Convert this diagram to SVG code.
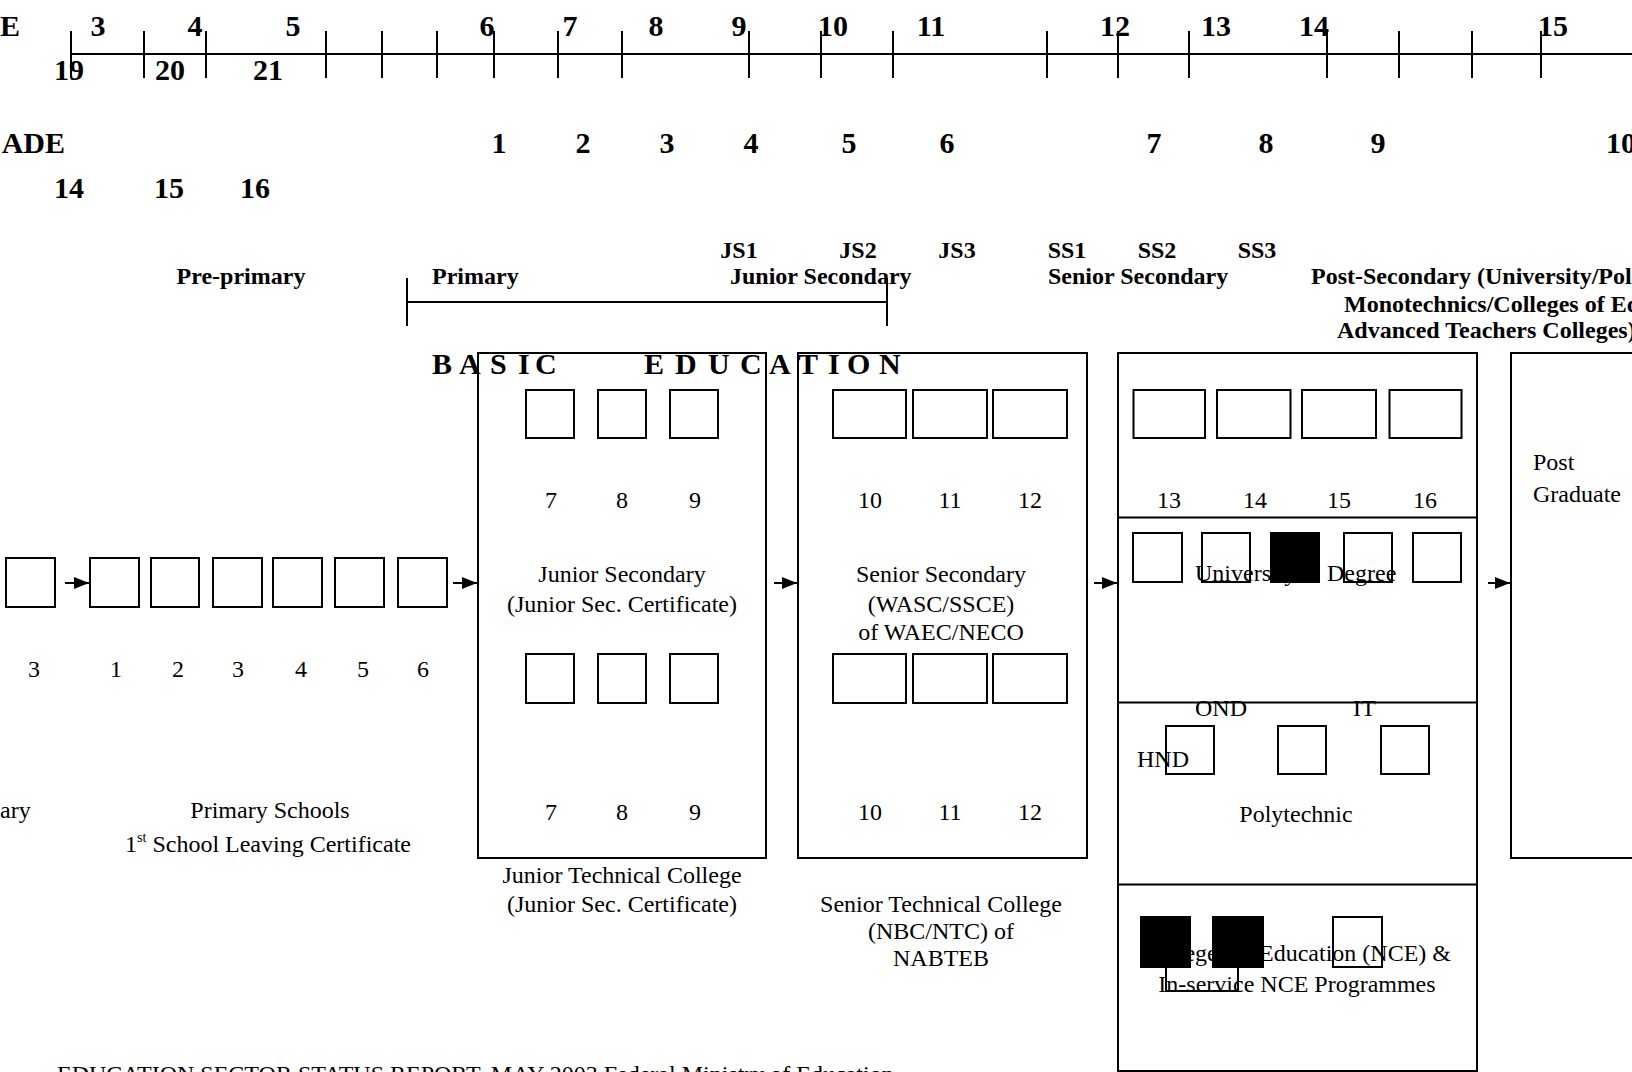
<svg xmlns="http://www.w3.org/2000/svg" width="1632" height="1072" viewBox="0 0 1632 1072">
<style>
text{font-family:"Liberation Serif","Times New Roman",serif;fill:#000}
.b{font-weight:bold}
.big{font-size:30px}
.m{font-size:24px}
.c{text-anchor:middle}
.box{fill:none;stroke:#000;stroke-width:2}
.sq{fill:none;stroke:#000;stroke-width:2}
.blk{fill:#000;stroke:#000;stroke-width:2}
.ln{stroke:#000;stroke-width:2;fill:none}
</style>
<defs>
<marker id="ah" markerUnits="userSpaceOnUse" markerWidth="15" markerHeight="12" refX="15" refY="6" orient="auto">
<path d="M0,0 L15,6 L0,12 z" fill="#000"/>
</marker>
</defs>
<rect width="1632" height="1072" fill="#fff"/>

<g id="timeline">
<line class="ln" x1="70" y1="54" x2="1632" y2="54"/>
<path class="ln" d="M71,31V78 M144,31V78 M206,31V78 M326,31V78 M382,31V78 M437,31V78 M494,31V78 M558,31V78 M622,31V78 M749,31V78 M821,31V78 M893,31V78 M1047,31V78 M1118,31V78 M1189,31V78 M1327,31V78 M1399,31V78 M1472,31V78 M1541,31V78"/>
<text class="b big" x="0" y="36">E</text>
<g class="b big c">
<text x="98" y="36">3</text><text x="195" y="36">4</text><text x="293" y="36">5</text><text x="487" y="36">6</text><text x="570" y="36">7</text><text x="656" y="36">8</text><text x="739" y="36">9</text><text x="833" y="36">10</text><text x="931" y="36">11</text><text x="1115" y="36">12</text><text x="1216" y="36">13</text><text x="1314" y="36">14</text><text x="1553" y="36">15</text>
<text x="69" y="80">19</text><text x="170" y="80">20</text><text x="268" y="80">21</text>
<text x="499" y="153">1</text><text x="583" y="153">2</text><text x="667" y="153">3</text><text x="751" y="153">4</text><text x="849" y="153">5</text><text x="947" y="153">6</text><text x="1154" y="153">7</text><text x="1266" y="153">8</text><text x="1378" y="153">9</text>
<text x="69" y="198">14</text><text x="169" y="198">15</text><text x="255" y="198">16</text>
</g>
<text class="b big" x="65" y="153" text-anchor="end">ADE</text>
<text class="b big" x="1606" y="153">10</text>
</g>

<g id="stage-labels" class="b m">
<text class="c" x="739" y="258">JS1</text><text class="c" x="858" y="258">JS2</text><text class="c" x="957" y="258">JS3</text>
<text class="c" x="1067" y="258">SS1</text><text class="c" x="1157" y="258">SS2</text><text class="c" x="1257" y="258">SS3</text>
<text class="c" x="241" y="284">Pre-primary</text>
<text x="432" y="284">Primary</text>
<text x="730" y="284">Junior Secondary</text>
<text x="1048" y="284">Senior Secondary</text>
<text x="1311" y="284">Post-Secondary (University/Pol</text>
<text x="1344" y="312">Monotechnics/Colleges of Ed</text>
<text x="1337" y="338">Advanced Teachers Colleges)</text>
</g>

<g id="basic-education">
<path class="ln" d="M407,278V326 M407,302H887 M887,278V326"/>
<text class="b big" y="374"><tspan x="432">B</tspan><tspan x="459">A</tspan><tspan x="490">S</tspan><tspan x="518">I</tspan><tspan x="535">C</tspan><tspan x="644">E</tspan><tspan x="675">D</tspan><tspan x="708">U</tspan><tspan x="740">C</tspan><tspan x="769">A</tspan><tspan x="798">T</tspan><tspan x="828">I</tspan><tspan x="847">O</tspan><tspan x="879">N</tspan></text>
</g>

<g id="pre-primary">
<rect class="sq" x="6" y="558" width="49" height="49"/>
<text class="m c" x="34" y="677">3</text>
<text class="m" x="0" y="818">ary</text>
</g>

<g id="primary">
<rect class="sq" x="90" y="558" width="49" height="49"/>
<rect class="sq" x="151" y="558" width="48" height="49"/>
<rect class="sq" x="213" y="558" width="49" height="49"/>
<rect class="sq" x="273" y="558" width="49" height="49"/>
<rect class="sq" x="335" y="558" width="49" height="49"/>
<rect class="sq" x="398" y="558" width="49" height="49"/>
<g class="m c">
<text x="116" y="677">1</text><text x="178" y="677">2</text><text x="238" y="677">3</text><text x="301" y="677">4</text><text x="363" y="677">5</text><text x="423" y="677">6</text>
<text x="270" y="818">Primary Schools</text>
<text x="268" y="852">1<tspan font-size="14" dy="-10">st</tspan><tspan dy="10"> School Leaving Certificate</tspan></text>
</g>
</g>

<g id="junior-secondary">
<rect class="box" x="478" y="353" width="288" height="505"/>
<rect class="sq" x="526" y="390" width="48" height="48"/>
<rect class="sq" x="598" y="390" width="48" height="48"/>
<rect class="sq" x="670" y="390" width="48" height="48"/>
<rect class="sq" x="526" y="654" width="48" height="49"/>
<rect class="sq" x="598" y="654" width="48" height="49"/>
<rect class="sq" x="670" y="654" width="48" height="49"/>
<g class="m c">
<text x="551" y="508">7</text><text x="622" y="508">8</text><text x="695" y="508">9</text>
<text x="622" y="582">Junior Secondary</text>
<text x="622" y="612">(Junior Sec. Certificate)</text>
<text x="551" y="820">7</text><text x="622" y="820">8</text><text x="695" y="820">9</text>
<text x="622" y="883">Junior Technical College</text>
<text x="622" y="912">(Junior Sec. Certificate)</text>
</g>
</g>

<g id="senior-secondary">
<rect class="box" x="798" y="353" width="289" height="505"/>
<rect class="sq" x="833" y="390" width="73" height="48"/>
<rect class="sq" x="913" y="390" width="74" height="48"/>
<rect class="sq" x="993" y="390" width="74" height="48"/>
<rect class="sq" x="833" y="654" width="73" height="49"/>
<rect class="sq" x="913" y="654" width="74" height="49"/>
<rect class="sq" x="993" y="654" width="74" height="49"/>
<g class="m c">
<text x="870" y="508">10</text><text x="950" y="508">11</text><text x="1030" y="508">12</text>
<text x="941" y="582">Senior Secondary</text>
<text x="941" y="612">(WASC/SSCE)</text>
<text x="941" y="640">of WAEC/NECO</text>
<text x="870" y="820">10</text><text x="950" y="820">11</text><text x="1030" y="820">12</text>
<text x="941" y="912">Senior Technical College</text>
<text x="941" y="939">(NBC/NTC) of</text>
<text x="941" y="966">NABTEB</text>
</g>
</g>

<g id="post-secondary">
<rect class="box" x="1118" y="353" width="359" height="718"/>
<path class="ln" d="M1118,517.5H1477 M1118,702.5H1477 M1118,884.5H1477"/>
<rect class="sq" x="1133.5" y="390" width="71.5" height="48"/>
<rect class="sq" x="1217" y="390" width="73.5" height="48"/>
<rect class="sq" x="1302" y="390" width="74" height="48"/>
<rect class="sq" x="1389.5" y="390" width="72" height="48"/>
<g class="m c">
<text x="1169" y="508">13</text><text x="1255" y="508">14</text><text x="1339" y="508">15</text><text x="1425" y="508">16</text>
</g>
<text class="m" x="1195" y="581">University <tspan x="1327">Degree</tspan></text>
<rect class="sq" x="1133" y="533" width="49" height="49"/>
<rect class="sq" x="1202" y="533" width="48" height="49"/>
<rect class="blk" x="1271" y="533" width="48" height="49"/>
<rect class="sq" x="1344" y="533" width="48" height="49"/>
<rect class="sq" x="1413" y="533" width="48" height="49"/>
<text class="m" x="1195" y="716">OND</text>
<text class="m" x="1353" y="716">IT</text>
<text class="m" x="1137" y="767">HND</text>
<rect class="sq" x="1166" y="726" width="48" height="48"/>
<rect class="sq" x="1278" y="726" width="48" height="48"/>
<rect class="sq" x="1381" y="726" width="48" height="48"/>
<text class="m c" x="1296" y="822">Polytechnic</text>
<text class="m c" x="1297" y="961">Colleges of Education (NCE) &amp;</text>
<text class="m c" x="1297" y="992">In-service NCE Programmes</text>
<path class="ln" d="M1166,967V991H1238V967"/>
<rect class="blk" x="1141" y="917" width="49" height="50"/>
<rect class="blk" x="1213" y="917" width="50" height="50"/>
<rect class="sq" x="1333" y="917" width="49" height="50"/>
</g>

<g id="post-graduate">
<rect class="box" x="1511" y="353" width="140" height="505"/>
<text class="m" x="1533" y="470">Post</text>
<text class="m" x="1533" y="502">Graduate</text>
</g>

<g id="connectors">
<line class="ln" x1="65" y1="583" x2="89" y2="583" marker-end="url(#ah)"/>
<line class="ln" x1="453" y1="583" x2="477" y2="583" marker-end="url(#ah)"/>
<line class="ln" x1="774" y1="583" x2="797" y2="583" marker-end="url(#ah)"/>
<line class="ln" x1="1094" y1="583" x2="1117" y2="583" marker-end="url(#ah)"/>
<line class="ln" x1="1488" y1="583" x2="1510" y2="583" marker-end="url(#ah)"/>
</g>

<g id="footer">
<text class="m" x="57" y="1082">EDUCATION SECTOR STATUS REPORT, MAY 2003 Federal Ministry of Education</text>
</g>
</svg>
